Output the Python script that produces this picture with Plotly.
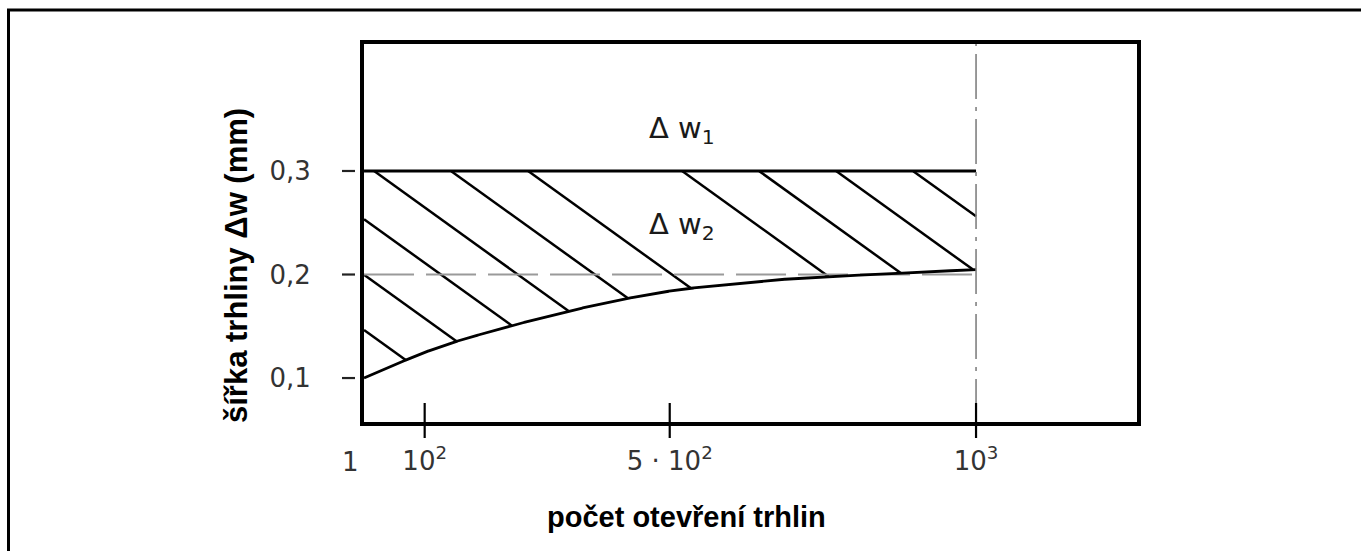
import numpy as np
import plotly.graph_objects as go

# Crack width development with the number of crack openings (schematic)
cycles = [1, 50, 131, 238, 348, 520, 725, 850, 961, 1000]
crack_width = [0.100, 0.1127, 0.1314, 0.1498, 0.1664, 0.1856, 0.1969, 0.2005, 0.2037, 0.2048]

w_total = 0.3        # upper limit (Δw1 above, Δw2 hatched below)
w_reference = 0.2    # dashed reference level
cycles_max = 1000    # dash-dot limit line

x_tick_vals = [100, 500, 1000]
x_tick_text = ["10<sup>2</sup>", "5 · 10<sup>2</sup>", "10<sup>3</sup>"]
origin_label = "1"
y_tick_vals = [0.1, 0.2, 0.3]
y_tick_text = ["0,1", "0,2", "0,3"]

# ---- layout geometry -------------------------------------------------------
W, H = 1361, 551
ML, MR, MT, MB = 362, 222, 42, 127
PW, PH = W - ML - MR, H - MT - MB
x_range = [-2.3, 1266.0]
y_range = [0.0556, 0.4246]
kx = PW / (x_range[1] - x_range[0])   # px per cycle
ky = PH / (y_range[1] - y_range[0])   # px per mm

TICK_FONT = dict(family="DejaVu Sans", size=26, color="#333333")
LABEL_FONT = dict(family="DejaVu Sans", size=29, color="#1a1a1a")
TITLE_FONT = dict(family="Liberation Sans, Arial", size=29, color="#000000")


def pchip(x, y, xq):
    """Shape-preserving cubic interpolation (Fritsch-Carlson)."""
    x = np.asarray(x, float)
    y = np.asarray(y, float)
    h = np.diff(x)
    d = np.diff(y) / h
    n = len(x)
    m = np.zeros(n)
    for k in range(1, n - 1):
        if d[k - 1] * d[k] > 0:
            w1 = 2 * h[k] + h[k - 1]
            w2 = h[k] + 2 * h[k - 1]
            m[k] = (w1 + w2) / (w1 / d[k - 1] + w2 / d[k])
    m[0] = ((2 * h[0] + h[1]) * d[0] - h[0] * d[1]) / (h[0] + h[1])
    if np.sign(m[0]) != np.sign(d[0]):
        m[0] = 0
    m[-1] = ((2 * h[-1] + h[-2]) * d[-1] - h[-1] * d[-2]) / (h[-1] + h[-2])
    if np.sign(m[-1]) != np.sign(d[-1]):
        m[-1] = 0
    i = np.clip(np.searchsorted(x, xq) - 1, 0, n - 2)
    t = (xq - x[i]) / h[i]
    h00 = 2 * t**3 - 3 * t**2 + 1
    h10 = t**3 - 2 * t**2 + t
    h01 = -2 * t**3 + 3 * t**2
    h11 = t**3 - t**2
    return h00 * y[i] + h10 * h[i] * m[i] + h01 * y[i + 1] + h11 * h[i] * m[i + 1]


xs_dense = np.linspace(cycles[0], cycles_max, 2000)
curve_dense = pchip(cycles, crack_width, xs_dense)

# Label positions for the two regions
lab1 = (520, 0.340)
lab2 = (520, 0.247)

# ---- hatching of the Δw2 region (between the limit line and the curve) ----
hatch_slope_px = 0.72     # px down per px right
hatch_step_px = 77.0
hatch_phase_px = 63.0     # distance of the first line's top from the limit line end
m = hatch_slope_px * kx / ky
step = hatch_step_px / kx

hx, hy = [], []
for k in range(40):
    xk = cycles_max - hatch_phase_px / kx - k * step
    # keep the label area free
    x_at_label = xk + (w_total - lab2[1]) / m
    if abs(x_at_label - lab2[0]) * kx < 50:
        continue
    line_y = w_total - m * (xs_dense - xk)
    above = (xs_dense >= xk) & (line_y <= w_total) & (line_y >= curve_dense)
    if not above.any():
        continue
    i0 = np.where(above)[0][0]
    i1 = i0
    while i1 + 1 < len(xs_dense) and line_y[i1 + 1] >= curve_dense[i1 + 1]:
        i1 += 1
    hx += [xs_dense[i0], xs_dense[i1], None]
    hy += [line_y[i0], line_y[i1], None]

fig = go.Figure()

fig.add_trace(go.Scatter(x=hx, y=hy, mode="lines",
                         line=dict(color="black", width=2.5),
                         hoverinfo="skip", showlegend=False))

# dashed reference level
fig.add_trace(go.Scatter(x=[cycles[0], cycles_max], y=[w_reference, w_reference],
                         mode="lines",
                         line=dict(color="#9a9a9a", width=2, dash="50px,12px"),
                         hoverinfo="skip", showlegend=False))

# upper limit line
fig.add_trace(go.Scatter(x=[cycles[0], cycles_max], y=[w_total, w_total],
                         mode="lines", line=dict(color="black", width=2.8),
                         hoverinfo="skip", showlegend=False))

# crack width curve
fig.add_trace(go.Scatter(x=xs_dense, y=curve_dense, mode="lines",
                         line=dict(color="black", width=2.8),
                         showlegend=False))

shapes = []
# frame around the figure
shapes.append(dict(type="rect", xref="paper", yref="paper",
                   x0=(8.5 - ML) / PW, x1=1.6,
                   y0=-1.0, y1=(H - MB - 10) / PH,
                   line=dict(color="black", width=3)))
# dash-dot limit line
shapes.append(dict(type="line", xref="x", yref="paper", x0=cycles_max, x1=cycles_max,
                   y0=0, y1=1, line=dict(color="#808080", width=1.6, dash="45px,8px,4px,8px")))
# x tick marks crossing the axis
for v in x_tick_vals:
    shapes.append(dict(type="line", xref="x", yref="paper", x0=v, x1=v,
                       y0=-14 / PH, y1=21 / PH,
                       line=dict(color="black", width=2.2)))
# y tick marks detached from the axis
for v in y_tick_vals:
    shapes.append(dict(type="line", xref="paper", yref="y",
                       x0=-20 / PW, x1=-7 / PW, y0=v, y1=v,
                       line=dict(color="#222222", width=2.2)))
# plot box
shapes.append(dict(type="rect", xref="paper", yref="paper", x0=0, x1=1, y0=0, y1=1,
                   line=dict(color="black", width=4)))

annotations = [
    dict(x=lab1[0], y=lab1[1], xref="x", yref="y", text="Δ w<sub>1</sub>",
         showarrow=False, font=LABEL_FONT, xanchor="center", yanchor="middle"),
    dict(x=lab2[0], y=lab2[1], xref="x", yref="y", text="Δ w<sub>2</sub>",
         showarrow=False, font=LABEL_FONT, xanchor="center", yanchor="middle"),
    dict(x=cycles[0], y=-38 / PH, xref="x", yref="paper", text=origin_label,
         showarrow=False, xshift=-14, font=TICK_FONT, xanchor="center", yanchor="middle"),
    dict(x=(236 - ML) / PW, y=(H - MB - 266) / PH,
         xref="paper", yref="paper", text="<b>šířka trhliny Δw (mm)</b>",
         textangle=-90, showarrow=False, font=dict(TITLE_FONT, size=31),
         xanchor="center", yanchor="middle"),
    dict(x=(686 - ML) / PW, y=-(517 - (H - MB)) / PH,
         xref="paper", yref="paper", text="<b>počet otevření trhlin</b>",
         showarrow=False, font=TITLE_FONT, xanchor="center", yanchor="middle"),
]

fig.update_layout(
    width=W, height=H,
    margin=dict(l=ML, r=MR, t=MT, b=MB, pad=0),
    paper_bgcolor="white", plot_bgcolor="white",
    shapes=shapes, annotations=annotations,
    showlegend=False,
    xaxis=dict(range=x_range, tickvals=x_tick_vals, ticktext=x_tick_text,
               ticks="outside", ticklen=14, tickcolor="rgba(0,0,0,0)",
               tickfont=TICK_FONT, showgrid=False, zeroline=False, showline=False),
    yaxis=dict(range=y_range, tickvals=y_tick_vals, ticktext=y_tick_text,
               ticks="outside", ticklen=45, tickcolor="rgba(0,0,0,0)",
               tickfont=TICK_FONT, showgrid=False, zeroline=False, showline=False),
)

fig.write_html("out.html")
